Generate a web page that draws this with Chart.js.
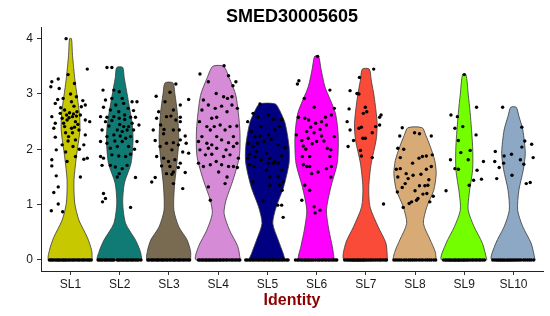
<!DOCTYPE html>
<html>
<head>
<meta charset="utf-8">
<script src="https://cdn.jsdelivr.net/npm/chart.js@4.4.1/dist/chart.umd.min.js"></script>
<style>
  html, body { margin: 0; padding: 0; background: #fff; }
  #wrap { width: 550px; height: 316px; }
</style>
</head>
<body>
<div id="wrap"><canvas id="vlnChart"></canvas></div>
<script>
const categories = ['SL1', 'SL2', 'SL3', 'SL4', 'SL5', 'SL6', 'SL7', 'SL8', 'SL9', 'SL10'];
const violinColors = ['#C8C800', '#0F7B74', '#786B52', '#D58BD5', '#000080',
                      '#FF00FF', '#FA4B38', '#D8AA76', '#74FF00', '#8CA8C4'];

// violin outline per cluster: [expression, half width in cluster units]
const shapeSL1 = [[0,0.44],[0.17,0.43],[0.41,0.34],[0.72,0.17],[1.03,0.085],[1.44,0.07],[1.87,0.12],[2.35,0.19],[2.65,0.18],[3.25,0.09],[3.7,0.04],[4.0,0.02]];
const shapeSL2 = [[0,0.45],[0.15,0.42],[0.36,0.32],[0.66,0.12],[1.03,0.06],[1.39,0.095],[1.75,0.23],[2.17,0.27],[2.47,0.25],[2.95,0.16],[3.3,0.09],[3.48,0.06]];
const shapeSL3 = [[0,0.44],[0.15,0.44],[0.36,0.37],[0.6,0.2],[0.9,0.1],[1.32,0.11],[1.75,0.16],[2.17,0.2],[2.66,0.17],[3.0,0.12],[3.2,0.08]];
const shapeSL4 = [[0,0.45],[0.24,0.40],[0.54,0.23],[0.84,0.12],[1.08,0.16],[1.44,0.30],[1.87,0.43],[2.35,0.44],[2.97,0.36],[3.3,0.22],[3.5,0.11]];
const shapeSL5 = [[0,0.36],[0.12,0.32],[0.36,0.22],[0.66,0.11],[0.96,0.18],[1.32,0.33],[1.75,0.44],[2.05,0.44],[2.47,0.36],[2.7,0.25],[2.82,0.16]];
const shapeSL6 = [[0,0.36],[0.24,0.32],[0.54,0.25],[0.9,0.2],[1.32,0.29],[1.75,0.42],[2.23,0.44],[2.66,0.38],[3.13,0.17],[3.45,0.09],[3.68,0.04]];
const shapeSL7 = [[0,0.44],[0.3,0.41],[0.6,0.25],[0.96,0.085],[1.32,0.06],[1.75,0.11],[2.17,0.21],[2.47,0.23],[2.95,0.17],[3.25,0.11],[3.45,0.07]];
const shapeSL8 = [[0,0.43],[0.15,0.41],[0.36,0.31],[0.66,0.17],[0.96,0.24],[1.26,0.38],[1.56,0.43],[1.8,0.4],[2.05,0.31],[2.25,0.22],[2.39,0.145]];
const shapeSL9 = [[0,0.46],[0.3,0.37],[0.6,0.2],[0.9,0.08],[1.2,0.1],[1.63,0.17],[2.05,0.17],[2.66,0.12],[3.0,0.08],[3.35,0.035]];
const shapeSL10 = [[0,0.44],[0.3,0.36],[0.6,0.19],[0.9,0.085],[1.26,0.11],[1.63,0.2],[1.93,0.24],[2.35,0.19],[2.6,0.11],[2.76,0.055]];

// expressing cells: [jitter offset, expression]
const cellsSL1 = [[-0.09,4.0],[0.34,3.45],[-0.38,3.22],[-0.25,3.27],[-0.05,3.35],[0.08,3.19],[-0.40,3.13],[-0.23,3.10],[0.25,2.88],[-0.31,2.83],[0.02,2.86],[0.07,2.78],[-0.12,2.71],[-0.02,2.66],[0.13,2.68],[0.22,2.77],[-0.21,2.65],[-0.38,2.59],[0.30,2.53],[-0.31,2.47],[-0.17,2.56],[-0.07,2.53],[0.04,2.59],[0.10,2.50],[0.39,2.50],[-0.34,2.38],[-0.12,2.41],[0.02,2.38],[0.17,2.35],[0.30,2.26],[-0.31,2.22],[-0.04,2.23],[0.10,2.17],[-0.17,2.08],[0.05,2.05],[0.27,2.08],[-0.29,1.99],[0.34,1.84],[0.27,1.82],[-0.38,1.81],[-0.07,1.78],[0.10,1.87],[-0.38,1.70],[-0.29,1.52],[0.20,1.50],[-0.25,1.32],[-0.34,1.22],[-0.25,1.01],[-0.39,0.89],[-0.16,0.87],[-0.08,2.62],[0.06,2.64],[-0.03,2.57],[0.12,2.60],[-0.14,2.47],[0.15,2.45],[-0.10,2.30],[0.04,2.30],[0.20,2.62],[-0.20,2.75],[0.12,2.95],[-0.15,2.92],[0.0,3.0],[0.08,2.40],[-0.05,2.15],[0.18,2.0],[-0.10,1.95],[0.30,2.80],[-0.26,2.90]];
const cellsSL2 = [[-0.26,3.48],[-0.16,3.48],[-0.34,3.07],[-0.12,3.07],[-0.01,3.04],[0.05,2.92],[-0.29,2.89],[-0.16,2.92],[0.25,2.86],[0.35,2.86],[0.08,2.83],[-0.33,2.76],[-0.19,2.71],[-0.02,2.68],[0.17,2.74],[-0.39,2.59],[-0.26,2.58],[-0.12,2.59],[-0.01,2.56],[0.10,2.54],[0.22,2.58],[0.32,2.58],[-0.29,2.50],[-0.16,2.52],[0.25,2.47],[0.39,2.44],[0.08,2.41],[0.18,2.41],[-0.36,2.35],[-0.05,2.35],[0.05,2.32],[0.15,2.35],[0.28,2.35],[-0.26,2.23],[-0.12,2.26],[0.01,2.24],[0.12,2.20],[0.22,2.23],[-0.39,2.14],[-0.26,2.11],[0.05,2.14],[0.35,2.14],[-0.19,2.02],[-0.05,2.05],[0.18,2.05],[-0.39,1.87],[-0.33,1.84],[-0.16,1.90],[-0.02,1.88],[0.12,1.87],[0.22,1.91],[-0.36,1.71],[-0.19,1.71],[-0.09,1.68],[0.05,1.65],[0.15,1.71],[-0.01,1.56],[-0.05,1.50],[0.32,1.49],[-0.33,1.20],[-0.29,1.11],[-0.35,1.05],[0.22,0.95],[0.0,2.45],[0.10,2.62],[-0.08,2.80],[0.28,2.70],[-0.22,2.42],[0.30,2.0],[-0.10,2.15]];
const cellsSL3 = [[0.14,3.18],[0.02,3.03],[-0.26,2.96],[0.40,2.90],[-0.08,2.86],[0.23,2.80],[0.09,2.71],[-0.21,2.68],[-0.05,2.59],[0.23,2.58],[-0.25,2.56],[0.04,2.60],[0.14,2.53],[0.23,2.50],[-0.17,2.44],[-0.10,2.36],[-0.32,2.35],[0.09,2.35],[0.21,2.35],[-0.11,2.28],[0.33,2.24],[-0.28,2.16],[0.23,2.17],[-0.05,2.11],[0.09,2.12],[0.19,2.08],[0.35,2.11],[-0.18,2.05],[0.06,1.99],[0.28,1.95],[0.40,1.93],[-0.25,1.87],[-0.11,1.84],[-0.01,1.78],[0.12,1.81],[0.23,1.75],[-0.15,1.70],[0.02,1.69],[0.19,1.67],[0.09,1.59],[0.33,1.58],[-0.05,1.56],[0.06,1.55],[-0.28,1.49],[-0.35,1.41],[0.09,1.38],[0.28,1.29]];
const cellsSL4 = [[0.12,3.51],[-0.37,3.36],[0.21,3.33],[-0.20,3.22],[0.30,3.15],[0.36,3.22],[-0.04,3.01],[-0.30,2.89],[0.11,2.95],[0.19,2.92],[0.28,2.95],[-0.20,2.80],[-0.06,2.74],[0.07,2.78],[0.28,2.80],[-0.33,2.71],[0.18,2.68],[0.39,2.74],[-0.13,2.56],[-0.03,2.58],[-0.38,2.50],[-0.23,2.41],[-0.08,2.41],[0.04,2.44],[0.24,2.41],[0.38,2.42],[-0.16,2.35],[0.14,2.35],[-0.33,2.23],[-0.03,2.23],[0.31,2.23],[-0.40,2.14],[-0.23,2.11],[-0.13,2.08],[0.07,2.17],[0.21,2.12],[0.38,2.11],[-0.37,1.99],[-0.20,2.02],[-0.03,2.02],[0.16,1.99],[0.31,2.05],[-0.26,1.90],[-0.13,1.91],[0.11,1.87],[0.24,1.90],[0.41,1.84],[-0.40,1.75],[-0.30,1.69],[-0.16,1.72],[-0.04,1.78],[0.07,1.72],[0.21,1.69],[0.31,1.69],[0.39,1.67],[0.01,1.59],[0.18,1.50],[-0.20,1.32],[0.14,1.38],[-0.16,1.08]];
const cellsSL5 = [[-0.15,2.82],[-0.29,2.65],[-0.40,2.50],[-0.19,2.58],[0.02,2.62],[0.12,2.54],[0.29,2.54],[-0.13,2.41],[-0.32,2.32],[0.15,2.35],[0.25,2.41],[-0.25,2.23],[-0.15,2.24],[0.02,2.26],[0.08,2.18],[-0.39,2.11],[-0.20,2.11],[-0.07,2.14],[-0.29,2.05],[0.22,2.08],[0.36,2.03],[-0.36,1.91],[-0.22,1.96],[-0.02,1.93],[-0.40,1.84],[-0.25,1.87],[-0.12,1.81],[0.05,1.84],[0.15,1.78],[0.29,1.88],[-0.36,1.72],[-0.27,1.69],[0.02,1.75],[0.12,1.75],[0.22,1.75],[-0.02,1.62],[0.29,1.62],[-0.29,1.41],[0.05,1.50],[0.22,1.50],[0.32,1.41],[0.05,1.35],[0.25,1.35],[0.30,1.26],[-0.09,1.07],[0.21,0.99],[0.29,0.99],[0.32,0.77]];
const cellsSL6 = [[0.02,3.68],[-0.36,3.24],[-0.39,3.18],[0.27,3.07],[-0.25,2.92],[0.36,2.74],[-0.05,2.76],[-0.37,2.58],[-0.24,2.56],[-0.16,2.53],[0.18,2.58],[0.30,2.62],[-0.02,2.47],[0.07,2.36],[-0.20,2.32],[0.20,2.44],[-0.41,2.26],[-0.30,2.16],[-0.17,2.20],[0.00,2.14],[0.10,2.24],[0.36,2.23],[-0.27,2.06],[-0.09,2.10],[0.22,2.02],[0.29,1.99],[-0.14,1.87],[0.27,1.87],[-0.29,1.87],[-0.20,1.69],[-0.14,1.69],[0.30,1.69],[-0.27,1.72],[0.20,1.65],[-0.10,1.56],[0.03,1.59],[0.29,1.50],[-0.24,1.35],[-0.14,1.26],[-0.30,1.08],[-0.05,0.96],[0.07,0.90],[-0.03,0.85],[-0.12,2.40],[0.10,2.50],[-0.05,2.30],[0.15,2.15],[-0.22,2.0]];
const cellsSL7 = [[0.16,3.45],[-0.13,3.30],[-0.32,3.06],[-0.18,3.01],[-0.14,3.00],[-0.34,2.73],[-0.01,2.76],[0.02,2.68],[-0.05,2.65],[0.31,2.62],[0.28,2.58],[-0.38,2.50],[0.28,2.44],[0.20,2.41],[-0.14,2.38],[-0.09,2.40],[-0.32,2.35],[0.13,2.30],[-0.06,2.20],[-0.01,2.20],[-0.25,2.16],[-0.36,2.05],[-0.11,1.98],[-0.09,1.88],[0.13,1.85],[0.36,1.01]];
const cellsSL8 = [[-0.26,2.39],[-0.01,2.30],[0.09,2.28],[0.33,2.24],[-0.31,2.24],[-0.35,2.02],[-0.23,2.00],[0.15,1.87],[0.23,1.88],[0.35,1.90],[0.08,1.84],[-0.38,1.64],[-0.30,1.65],[-0.35,1.50],[-0.18,1.56],[-0.04,1.53],[-0.14,1.47],[0.23,1.64],[0.33,1.69],[-0.36,1.23],[-0.26,1.31],[0.09,1.34],[0.20,1.34],[0.26,1.35],[0.24,1.20],[0.16,1.19],[0.03,1.08],[-0.07,1.05],[-0.12,1.02],[0.37,1.15],[-0.24,0.95],[0.06,1.11],[-0.30,1.85],[0.12,1.55],[-0.05,1.75],[0.28,1.45],[-0.20,1.38],[0.0,1.25],[0.30,1.05]];
const cellsSL9 = [[0,3.35],[0.25,2.76],[-0.27,2.62],[-0.14,2.59],[-0.03,2.41],[-0.19,2.38],[0.24,2.26],[-0.12,2.16],[-0.07,1.94],[0.12,1.98],[-0.28,1.81],[0.08,1.81],[0.39,1.78],[-0.19,1.65],[-0.12,1.64],[0.26,1.62],[0.19,1.44],[0.35,1.46],[0.10,1.35],[-0.37,1.25]];
const cellsSL10 = [[-0.22,2.76],[0.17,2.40],[0.37,2.09],[0.23,2.15],[-0.37,1.96],[-0.19,1.88],[-0.04,1.91],[0.17,2.04],[0.40,1.85],[-0.38,1.78],[-0.20,1.75],[0.14,1.81],[0.21,1.73],[-0.29,1.67],[-0.03,1.53],[-0.34,1.47],[0.26,1.38],[0.34,1.40]];

// jitter offsets of the cells with zero expression
const zerosSL1 = [-0.43,-0.40,-0.37,-0.34,-0.30,-0.27,-0.24,-0.21,-0.17,-0.14,-0.11,-0.08,-0.04,-0.01,0.03,0.06,0.09,0.13,0.16,0.19,0.23,0.26,0.29,0.33,0.36,0.39,0.42];
const zerosSL2 = [-0.44,-0.41,-0.38,-0.35,-0.31,-0.28,-0.25,-0.21,-0.18,-0.15,-0.12,-0.05,-0.02,0.01,0.05,0.08,0.12,0.15,0.18,0.22,0.25,0.28,0.32,0.35,0.38,0.43];
const zerosSL3 = [-0.43,-0.40,-0.36,-0.33,-0.30,-0.26,-0.23,-0.20,-0.16,-0.13,-0.10,-0.06,-0.03,0.01,0.04,0.08,0.11,0.14,0.18,0.21,0.24,0.28,0.31,0.35,0.39,0.42];
const zerosSL4 = [-0.40,-0.37,-0.33,-0.30,-0.26,-0.23,-0.19,-0.16,-0.12,-0.09,-0.05,-0.02,0.02,0.05,0.09,0.12,0.16,0.19,0.23,0.27,0.30,0.34,0.37,0.41,0.44];
const zerosSL5 = [-0.44,-0.41,-0.37,-0.34,-0.30,-0.27,-0.23,-0.19,-0.16,-0.12,-0.08,-0.05,-0.01,0.03,0.06,0.10,0.13,0.17,0.21,0.24,0.28,0.31,0.35,0.39,0.42];
const zerosSL6 = [-0.43,-0.39,-0.36,-0.32,-0.29,-0.25,-0.22,-0.18,-0.15,-0.11,-0.07,-0.02,0.03,0.06,0.10,0.13,0.17,0.20,0.24,0.27,0.31,0.34,0.38,0.41];
const zerosSL7 = [-0.43,-0.39,-0.36,-0.32,-0.28,-0.25,-0.21,-0.17,-0.14,-0.10,-0.06,-0.03,0.01,0.05,0.09,0.12,0.16,0.20,0.24,0.28,0.31,0.35,0.39,0.42];
const zerosSL8 = [-0.43,-0.39,-0.35,-0.31,-0.27,-0.22,-0.18,-0.13,-0.09,-0.05,-0.01,0.03,0.08,0.12,0.16,0.21,0.25,0.29,0.33,0.38,0.42];
const zerosSL9 = [-0.42,-0.38,-0.35,-0.31,-0.28,-0.24,-0.20,-0.17,-0.13,-0.10,-0.06,-0.02,0.01,0.05,0.08,0.12,0.16,0.19,0.23,0.26,0.30,0.33,0.37,0.41];
const zerosSL10 = [-0.42,-0.38,-0.34,-0.30,-0.26,-0.22,-0.18,-0.13,-0.09,-0.05,-0.01,0.03,0.07,0.11,0.15,0.20,0.24,0.28,0.32,0.36,0.41];

const shapes = [shapeSL1, shapeSL2, shapeSL3, shapeSL4, shapeSL5, shapeSL6, shapeSL7, shapeSL8, shapeSL9, shapeSL10];
const cells = [cellsSL1, cellsSL2, cellsSL3, cellsSL4, cellsSL5, cellsSL6, cellsSL7, cellsSL8, cellsSL9, cellsSL10];
const zeros = [zerosSL1, zerosSL2, zerosSL3, zerosSL4, zerosSL5, zerosSL6, zerosSL7, zerosSL8, zerosSL9, zerosSL10];

const fontFamily = '"Liberation Sans", Arial, sans-serif';

// closed outline: right side going up, left side coming back down
function violinOutline(shape, pos) {
    const right = shape.map(p => ({x: pos + p[1], y: p[0]}));
    const left = shape.slice().reverse().map(p => ({x: pos - p[1], y: p[0]}));
    return right.concat(left, [right[0]]);
}

const violinDatasets = shapes.map((shape, i) => ({
    type: 'line',
    label: categories[i],
    data: violinOutline(shape, i + 1),
    fill: 'shape',
    backgroundColor: violinColors[i],
    borderColor: '#3a3a3a',
    borderWidth: 0.8,
    pointRadius: 0,
    tension: 0.25,
    order: 2
}));

const cellPoints = [];
cells.forEach((list, i) => {
    zeros[i].forEach(dx => cellPoints.push({x: i + 1 + dx, y: 0}));
    list.forEach(c => cellPoints.push({x: i + 1 + c[0], y: c[1]}));
});

new Chart(document.getElementById('vlnChart'), {
    type: 'scatter',
    data: {
        datasets: violinDatasets.concat([{
            type: 'scatter',
            label: 'cells',
            data: cellPoints,
            pointRadius: 1.7,
            pointHoverRadius: 1.7,
            backgroundColor: '#000',
            borderWidth: 0,
            order: 1
        }])
    },
    options: {
        responsive: true,
        maintainAspectRatio: false,
        animation: false,
        devicePixelRatio: 1,
        layout: {
            padding: {left: 0, right: 7, top: 0, bottom: 6}
        },
        scales: {
            x: {
                type: 'linear',
                min: 0.4,
                max: 10.6,
                afterBuildTicks: axis => { axis.ticks = categories.map((c, i) => ({value: i + 1})); },
                afterFit: axis => { axis.height = 39; },
                ticks: {
                    autoSkip: false,
                    maxRotation: 0,
                    padding: 2,
                    color: '#1a1a1a',
                    font: {family: fontFamily, size: 12},
                    callback: v => categories[v - 1]
                },
                grid: {drawOnChartArea: false, drawTicks: true, tickLength: 4, color: '#333'},
                border: {display: true, color: '#222', width: 1},
                title: {
                    display: true,
                    text: 'Identity',
                    color: '#8B0000',
                    font: {family: fontFamily, size: 16, weight: 'bold'},
                    padding: {top: 0, bottom: 0}
                }
            },
            y: {
                type: 'linear',
                min: -0.2,
                max: 4.2,
                afterBuildTicks: axis => { axis.ticks = [0, 1, 2, 3, 4].map(v => ({value: v})); },
                afterFit: axis => { axis.width = 41; },
                ticks: {
                    padding: 4,
                    color: '#1a1a1a',
                    font: {family: fontFamily, size: 12}
                },
                grid: {drawOnChartArea: false, drawTicks: true, tickLength: 4, color: '#333'},
                border: {display: true, color: '#222', width: 1}
            }
        },
        plugins: {
            legend: {display: false},
            tooltip: {enabled: false},
            title: {
                display: true,
                text: 'SMED30005605',
                color: '#000',
                fullSize: false,
                font: {family: fontFamily, size: 18, weight: 'bold'},
                padding: {top: 6, bottom: 0}
            }
        }
    }
});
</script>
</body>
</html>
